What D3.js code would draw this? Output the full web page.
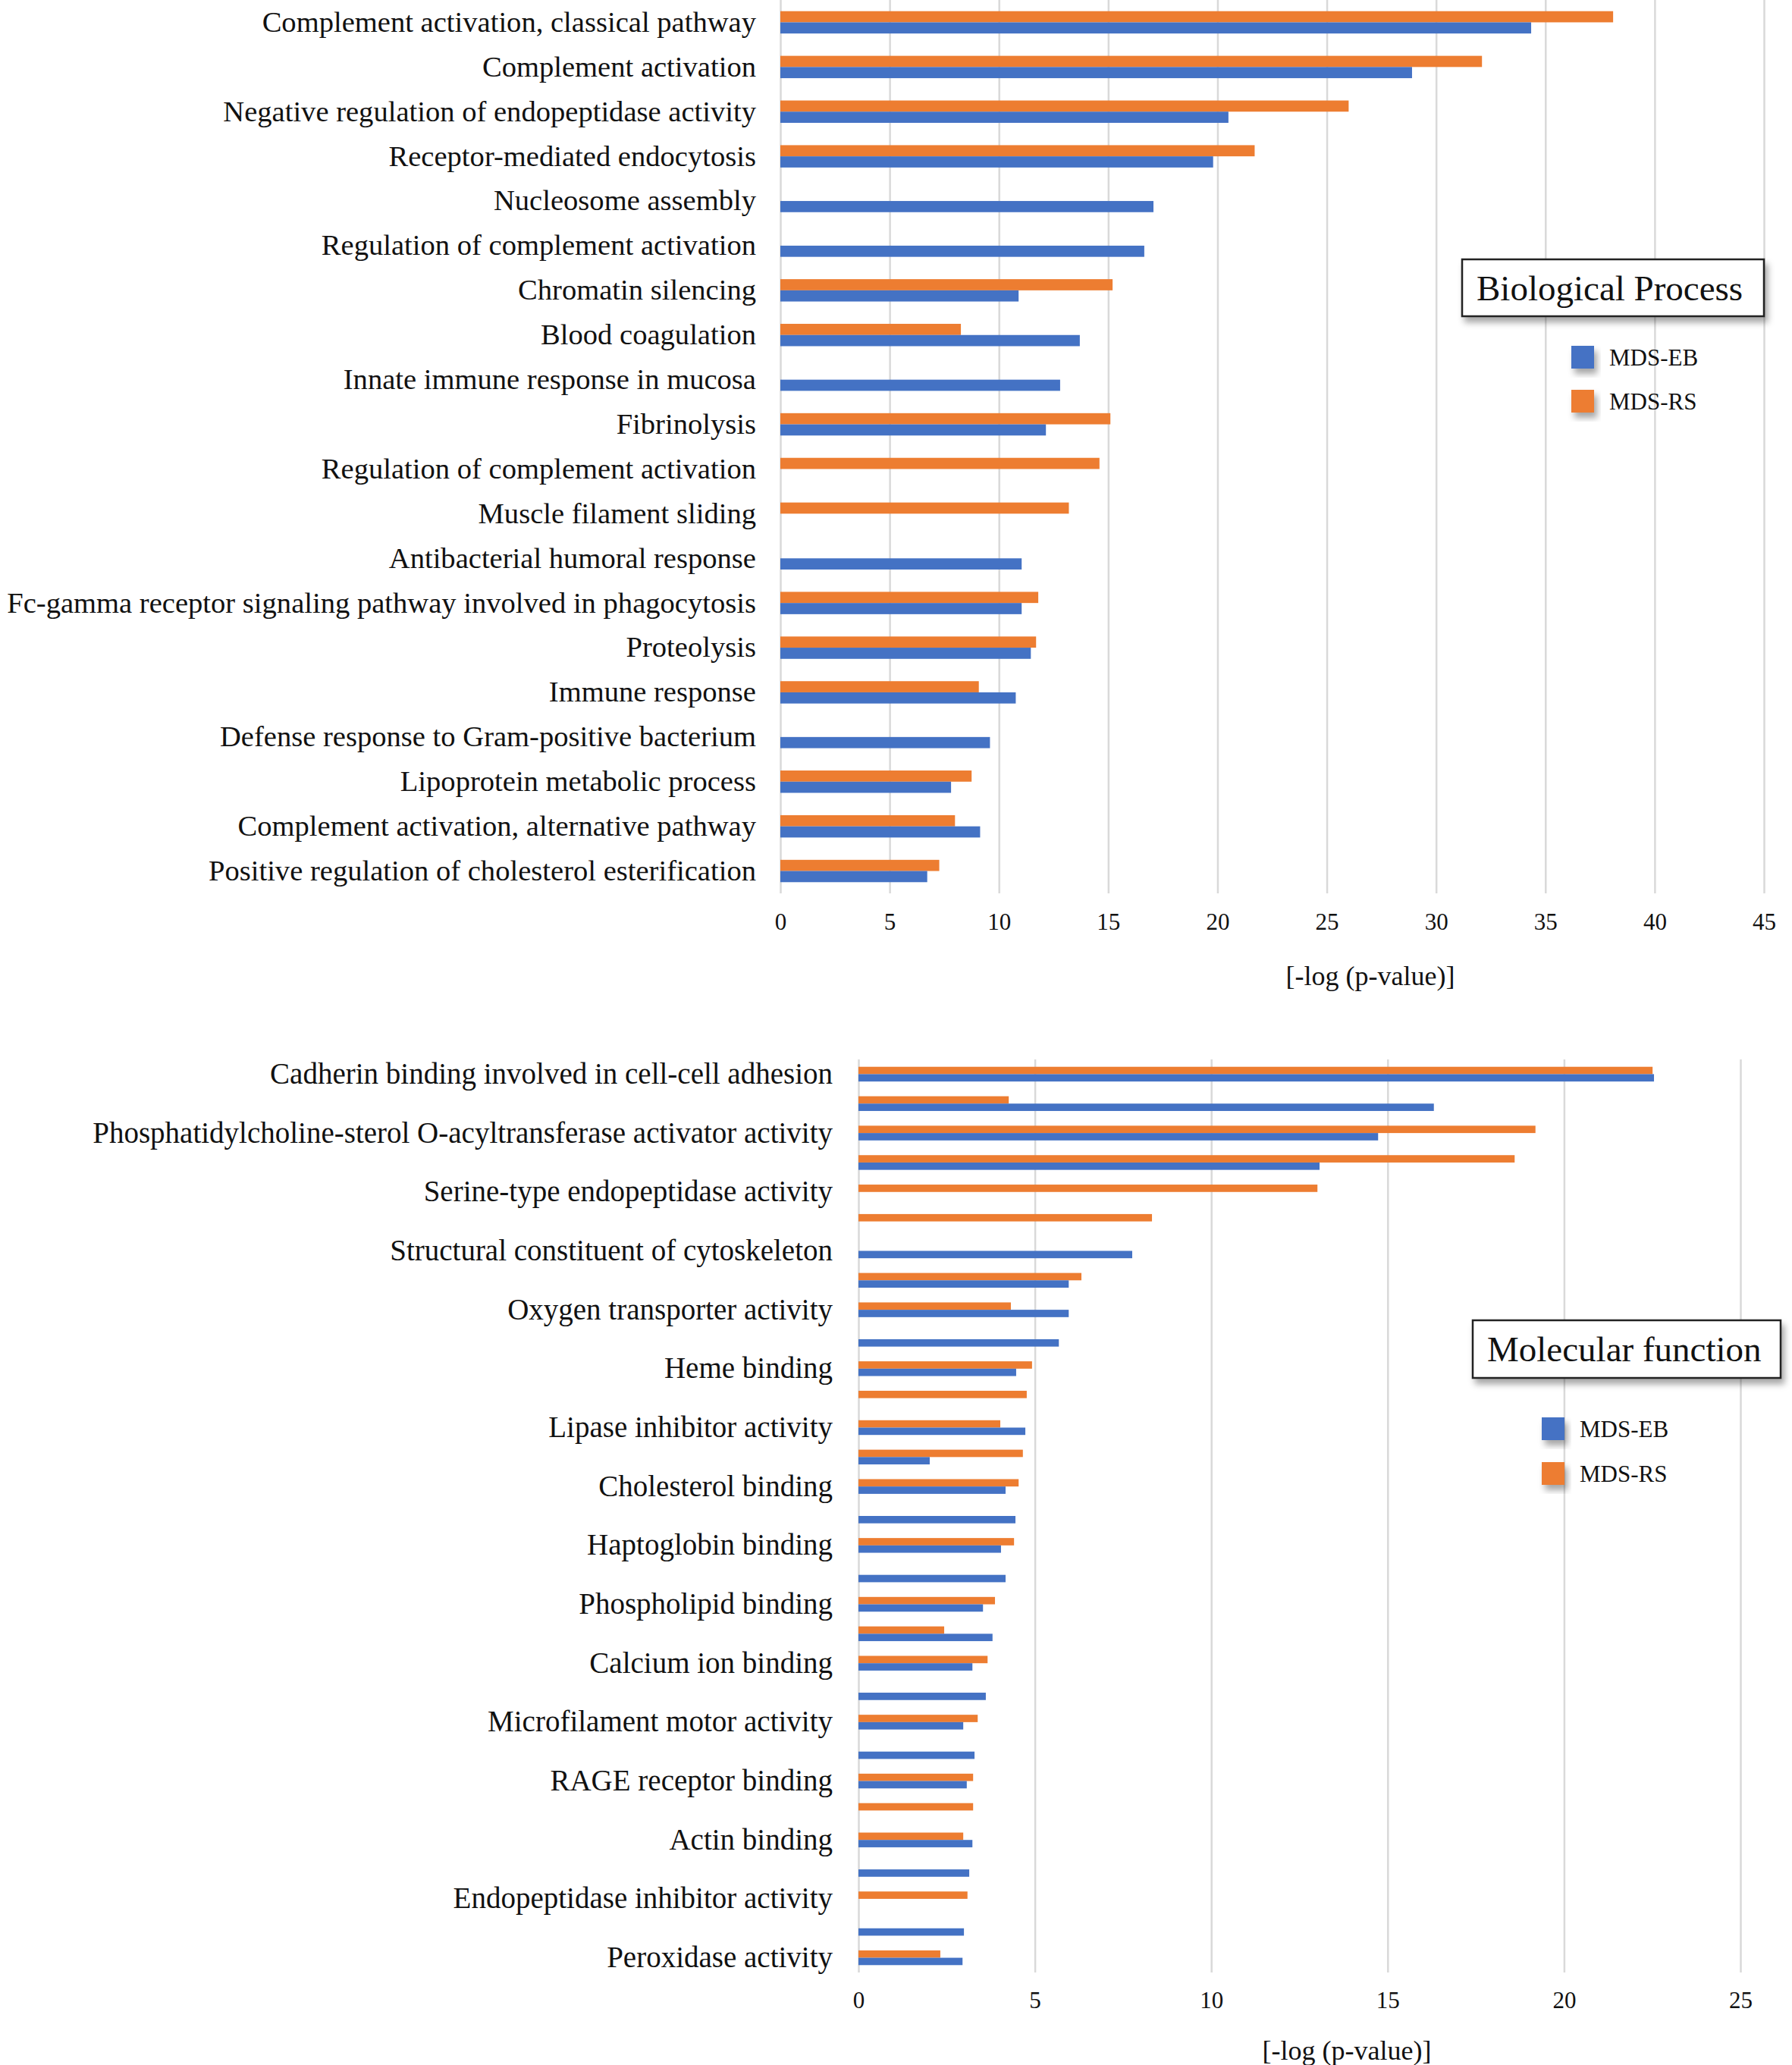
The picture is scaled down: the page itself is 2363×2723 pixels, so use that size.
<!DOCTYPE html>
<html>
<head>
<meta charset="utf-8">
<script src="https://cdn.jsdelivr.net/npm/d3@7"></script>
<style>
  body { margin: 0; background: #fff; }
  svg text { font-family: "Liberation Serif", "Times New Roman", serif; fill: #111; }
  .grid line { stroke: #d9d9d9; stroke-width: 2.5; }
  .grid .domain { display: none; }
</style>
</head>
<body>
<svg id="chart" width="2363" height="2723"></svg>
<script>
// Biological process panel
const bpCategories = [
  "Complement activation, classical pathway",
  "Complement activation",
  "Negative regulation of endopeptidase activity",
  "Receptor-mediated endocytosis",
  "Nucleosome assembly",
  "Regulation of complement activation",
  "Chromatin silencing",
  "Blood coagulation",
  "Innate immune response in mucosa",
  "Fibrinolysis",
  "Regulation of complement activation ",
  "Muscle filament sliding",
  "Antibacterial humoral response",
  "Fc-gamma receptor signaling pathway involved in phagocytosis",
  "Proteolysis",
  "Immune response",
  "Defense response to Gram-positive bacterium",
  "Lipoprotein metabolic process",
  "Complement activation, alternative pathway",
  "Positive regulation of cholesterol esterification"
];
const bpEB = [34.35, 28.9, 20.5, 19.8, 17.07, 16.65, 10.9, 13.7, 12.8, 12.15, null, null, 11.04, 11.04, 11.46, 10.77, 9.59, 7.81, 9.14, 6.72];
const bpRS = [38.1, 32.1, 26.0, 21.7, null, null, 15.2, 8.26, null, 15.1, 14.6, 13.2, null, 11.8, 11.7, 9.08, null, 8.75, 7.99, 7.27];
const bpTicks = [0, 5, 10, 15, 20, 25, 30, 35, 40, 45];

// Molecular function panel (only every other category carries a label)
const mfLabels = [
  "Cadherin binding involved in cell-cell adhesion", null,
  "Phosphatidylcholine-sterol O-acyltransferase activator activity", null,
  "Serine-type endopeptidase activity", null,
  "Structural constituent of cytoskeleton", null,
  "Oxygen transporter activity", null,
  "Heme binding", null,
  "Lipase inhibitor activity", null,
  "Cholesterol binding", null,
  "Haptoglobin binding", null,
  "Phospholipid binding", null,
  "Calcium ion binding", null,
  "Microfilament motor activity", null,
  "RAGE receptor binding", null,
  "Actin binding", null,
  "Endopeptidase inhibitor activity", null,
  "Peroxidase activity"
];
const mfEB = [22.55, 16.31, 14.73, 13.07, null, null, 7.76, 5.96, 5.96, 5.68, 4.47, null, 4.73, 2.02, 4.17, 4.45, 4.04, 4.17, 3.53, 3.80, 3.23, 3.61, 2.97, 3.29, 3.07, null, 3.23, 3.14, null, 2.99, 2.95];
const mfRS = [22.51, 4.26, 19.19, 18.6, 13.01, 8.32, null, 6.32, 4.32, null, 4.92, 4.77, 4.02, 4.66, 4.54, null, 4.41, null, 3.87, 2.43, 3.66, null, 3.38, null, 3.25, 3.25, 2.97, null, 3.09, null, 2.32];
const mfTicks = [0, 5, 10, 15, 20, 25];

const seriesNames = ["MDS-EB", "MDS-RS"];
const colors = { "MDS-EB": "#4472C4", "MDS-RS": "#ED7D31" };

const svg = d3.select("#chart");

// soft drop shadow for legend box and keys
const defs = svg.append("defs");
const shadow = defs.append("filter").attr("id", "shadow")
  .attr("x", "-20%").attr("y", "-20%").attr("width", "150%").attr("height", "160%");
shadow.append("feDropShadow").attr("dx", 4).attr("dy", 7).attr("stdDeviation", 4)
  .attr("flood-color", "#000").attr("flood-opacity", 0.35);

function drawPanel(p) {
  const g = svg.append("g");
  const n = p.eb.length;
  const x = d3.scaleLinear().domain(p.domain).range([p.left, p.right]);
  const y = d3.scaleBand().domain(d3.range(n)).range([p.top, p.bottom]).padding(0);
  const bh = y.bandwidth() / 4;

  // gridlines
  g.append("g").attr("class", "grid")
    .attr("transform", `translate(0,${p.bottom})`)
    .call(d3.axisBottom(x).tickValues(p.ticks).tickSize(-(p.bottom - p.top)).tickFormat(""));

  // tick labels
  const xa = g.append("g").attr("transform", `translate(0,${p.tickY})`)
    .call(d3.axisBottom(x).tickValues(p.ticks).tickSize(0).tickPadding(0));
  xa.select(".domain").remove();
  xa.selectAll("text").attr("font-size", 31).attr("dy", "0.35em").style("font-family", null);

  // category labels
  const ya = g.append("g").attr("transform", `translate(${p.left},0)`)
    .call(d3.axisLeft(y).tickSize(0).tickPadding(p.labelGap).tickFormat(i => p.labels[i] || ""));
  ya.select(".domain").remove();
  ya.selectAll("text").attr("font-size", p.labelSize).style("font-family", null);

  // bars: MDS-RS on top, MDS-EB underneath within each row
  const rows = d3.range(n);
  g.selectAll(".rs").data(rows.filter(i => p.rs[i] != null)).join("rect")
    .attr("x", x(0)).attr("y", i => y(i) + y.bandwidth() / 2 - bh)
    .attr("width", i => x(p.rs[i]) - x(0)).attr("height", bh)
    .attr("fill", colors["MDS-RS"]);
  g.selectAll(".eb").data(rows.filter(i => p.eb[i] != null)).join("rect")
    .attr("x", x(0)).attr("y", i => y(i) + y.bandwidth() / 2)
    .attr("width", i => x(p.eb[i]) - x(0)).attr("height", bh)
    .attr("fill", colors["MDS-EB"]);

  // axis title
  g.append("text").attr("x", p.titleX).attr("y", p.titleY)
    .attr("text-anchor", "middle").attr("dy", "0.35em").attr("font-size", 36)
    .text("[-log (p-value)]");

  // legend
  const lg = g.append("g");
  lg.append("rect").attr("x", p.box[0]).attr("y", p.box[1])
    .attr("width", p.box[2]).attr("height", p.box[3])
    .attr("fill", "#fff").attr("stroke", "#222").attr("stroke-width", 2.5)
    .attr("filter", "url(#shadow)");
  lg.append("text").attr("x", p.box[0] + 19).attr("y", p.box[1] + p.box[3] / 2)
    .attr("dy", "0.35em").attr("font-size", 47).text(p.legendTitle);
  seriesNames.forEach((s, k) => {
    const cy = p.keyY[k];
    lg.append("rect").attr("x", p.keyX).attr("y", cy - 15).attr("width", 30).attr("height", 30)
      .attr("fill", colors[s]).attr("filter", "url(#shadow)");
    lg.append("text").attr("x", p.keyX + 50).attr("y", cy).attr("dy", "0.35em")
      .attr("font-size", 31).text(s);
  });
}

drawPanel({
  labels: bpCategories, eb: bpEB, rs: bpRS, ticks: bpTicks, domain: [0, 45],
  left: 1029, right: 2326, top: 0, bottom: 1178, labelGap: 32, labelSize: 38.6,
  tickY: 1215, titleX: 1807, titleY: 1286,
  box: [1928, 342, 398, 75], legendTitle: "Biological Process",
  keyX: 2072, keyY: [471, 529]
});

drawPanel({
  labels: mfLabels, eb: mfEB, rs: mfRS, ticks: mfTicks, domain: [0, 25],
  left: 1132, right: 2295, top: 1397, bottom: 2601, labelGap: 34, labelSize: 39,
  tickY: 2637, titleX: 1776, titleY: 2703,
  box: [1942, 1741, 406, 76], legendTitle: "Molecular function",
  keyX: 2033, keyY: [1884, 1943]
});
</script>
</body>
</html>
